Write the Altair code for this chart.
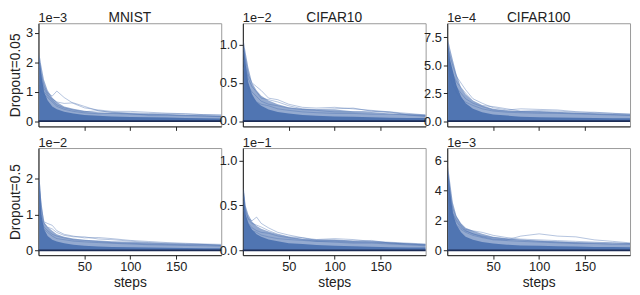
import altair as alt
import pandas as pd

FONT = "Liberation Sans"
BLUE = "#4c72b0"
NAVY = "#1d2d57"

STEPS = [1, 3, 6, 10, 15, 20, 28, 38, 50, 65, 80, 100, 120, 140, 160, 180, 199]
X_TICKS = [50, 100, 150]
DATASETS = ["MNIST", "CIFAR10", "CIFAR100"]
DROPOUTS = ["Dropout=0.05", "Dropout=0.5"]
MULTIPLIERS = [["1e−3", "1e−2", "1e−4"], ["1e−2", "1e−1", "1e−3"]]
Y_DOMAINS = [[[-0.18, 3.32], [-0.07, 1.28], [-0.47, 8.74]],
             [[-0.13, 2.85], [-0.054, 1.14], [-0.32, 6.82]]]
Y_TICKS = [[[0, 1, 2, 3], [0, 0.5, 1.0], [0, 2.5, 5, 7.5]],
           [[0, 1, 2], [0, 0.5, 1.0], [0, 2, 4, 6]]]
Y_FORMATS = [["d", ".1f", ".1f"], ["d", ".1f", "d"]]

# ---- MNIST, dropout 0.05 (x1e-3)
mnist_a_inner = [2.2, 1.6, 1.0, 0.7, 0.5, 0.4, 0.32, 0.26, 0.21, 0.18, 0.16, 0.14, 0.13, 0.12, 0.11, 0.1, 0.09]
mnist_a_outer = [2.3, 1.9, 1.4, 1.05, 0.8, 0.65, 0.5, 0.42, 0.35, 0.3, 0.28, 0.27, 0.25, 0.23, 0.21, 0.2, 0.18]
mnist_a_l1 = [2.0, 1.6, 1.2, 0.95, 0.85, 1.02, 0.8, 0.6, 0.45, 0.38, 0.33, 0.33, 0.3, 0.27, 0.25, 0.22, 0.2]
mnist_a_l2 = [1.8, 1.4, 1.1, 0.9, 0.75, 0.65, 0.6, 0.62, 0.5, 0.35, 0.3, 0.28, 0.26, 0.25, 0.24, 0.22, 0.21]
mnist_a_l3 = [1.5, 1.3, 1.0, 0.85, 0.7, 0.55, 0.45, 0.38, 0.32, 0.35, 0.3, 0.25, 0.2, 0.22, 0.2, 0.18, 0.16]
mnist_a_l4 = [1.2, 1.0, 0.9, 0.8, 0.65, 0.5, 0.4, 0.33, 0.28, 0.25, 0.26, 0.24, 0.22, 0.2, 0.18, 0.17, 0.15]

# ---- CIFAR10, dropout 0.05 (x1e-2)
c10_a_inner = [1.0, 0.75, 0.5, 0.35, 0.25, 0.2, 0.15, 0.12, 0.1, 0.08, 0.07, 0.06, 0.055, 0.05, 0.045, 0.04, 0.04]
c10_a_outer = [1.05, 0.9, 0.7, 0.5, 0.4, 0.33, 0.27, 0.22, 0.18, 0.16, 0.15, 0.15, 0.13, 0.12, 0.1, 0.09, 0.08]
c10_a_l1 = [0.95, 0.8, 0.6, 0.5, 0.45, 0.4, 0.3, 0.28, 0.22, 0.18, 0.17, 0.18, 0.16, 0.14, 0.12, 0.1, 0.08]
c10_a_l2 = [0.9, 0.7, 0.55, 0.45, 0.38, 0.3, 0.28, 0.25, 0.2, 0.16, 0.15, 0.16, 0.17, 0.13, 0.11, 0.09, 0.08]
c10_a_l3 = [0.8, 0.6, 0.45, 0.38, 0.32, 0.26, 0.22, 0.2, 0.17, 0.15, 0.14, 0.12, 0.12, 0.13, 0.12, 0.08, 0.07]
c10_a_l4 = [0.7, 0.55, 0.42, 0.3, 0.25, 0.22, 0.2, 0.16, 0.14, 0.12, 0.11, 0.1, 0.1, 0.09, 0.09, 0.08, 0.06]

# ---- CIFAR100, dropout 0.05 (x1e-4)
c100_a_inner = [7.0, 5.5, 4.5, 3.2, 2.2, 1.6, 1.1, 0.8, 0.6, 0.5, 0.4, 0.35, 0.32, 0.3, 0.28, 0.26, 0.25]
c100_a_outer = [7.3, 6.5, 5.5, 4.2, 3.0, 2.4, 1.8, 1.4, 1.1, 0.95, 0.9, 0.9, 0.85, 0.75, 0.7, 0.65, 0.6]
c100_a_l1 = [6.5, 5.8, 5.0, 4.0, 3.4, 2.8, 2.0, 1.6, 1.2, 1.0, 1.1, 1.05, 1.0, 0.85, 0.75, 0.7, 0.6]
c100_a_l2 = [6.0, 5.0, 4.2, 3.5, 3.0, 2.5, 1.8, 1.4, 1.3, 1.1, 0.9, 0.95, 0.9, 0.8, 0.8, 0.7, 0.65]
c100_a_l3 = [5.5, 4.5, 3.8, 3.0, 2.5, 2.0, 1.6, 1.3, 1.0, 0.9, 0.85, 0.8, 0.75, 0.7, 0.65, 0.6, 0.55]
c100_a_l4 = [4.8, 4.0, 3.2, 2.6, 2.0, 1.7, 1.4, 1.1, 0.9, 0.8, 0.75, 0.7, 0.7, 0.65, 0.6, 0.55, 0.5]

# ---- MNIST, dropout 0.5 (x1e-2)
mnist_b_inner = [2.0, 1.0, 0.6, 0.4, 0.3, 0.25, 0.2, 0.16, 0.13, 0.11, 0.1, 0.09, 0.08, 0.075, 0.07, 0.065, 0.06]
mnist_b_outer = [2.1, 1.4, 0.8, 0.65, 0.55, 0.45, 0.38, 0.33, 0.3, 0.28, 0.26, 0.24, 0.22, 0.2, 0.18, 0.17, 0.15]
mnist_b_l1 = [1.9, 1.2, 0.8, 0.75, 0.7, 0.55, 0.45, 0.4, 0.35, 0.36, 0.33, 0.28, 0.25, 0.22, 0.2, 0.18, 0.17]
mnist_b_l2 = [1.7, 1.0, 0.75, 0.65, 0.6, 0.5, 0.42, 0.38, 0.38, 0.32, 0.3, 0.26, 0.22, 0.2, 0.19, 0.17, 0.15]
mnist_b_l3 = [1.5, 0.9, 0.65, 0.55, 0.45, 0.4, 0.35, 0.3, 0.28, 0.25, 0.22, 0.2, 0.18, 0.17, 0.16, 0.16, 0.14]
mnist_b_l4 = [1.2, 0.8, 0.6, 0.5, 0.4, 0.33, 0.3, 0.26, 0.24, 0.22, 0.2, 0.18, 0.16, 0.15, 0.14, 0.13, 0.12]

# ---- CIFAR10, dropout 0.5 (x1e-1)
c10_b_inner = [0.68, 0.4, 0.3, 0.23, 0.18, 0.15, 0.12, 0.1, 0.08, 0.07, 0.06, 0.05, 0.045, 0.04, 0.035, 0.03, 0.03]
c10_b_outer = [0.7, 0.5, 0.4, 0.32, 0.27, 0.24, 0.21, 0.18, 0.15, 0.13, 0.12, 0.12, 0.11, 0.1, 0.09, 0.08, 0.07]
c10_b_l1 = [0.6, 0.45, 0.35, 0.33, 0.37, 0.3, 0.25, 0.2, 0.17, 0.14, 0.12, 0.13, 0.12, 0.1, 0.09, 0.08, 0.07]
c10_b_l2 = [0.55, 0.42, 0.34, 0.3, 0.28, 0.26, 0.22, 0.18, 0.15, 0.14, 0.11, 0.11, 0.1, 0.11, 0.08, 0.07, 0.06]
c10_b_l3 = [0.5, 0.38, 0.3, 0.25, 0.22, 0.2, 0.19, 0.16, 0.14, 0.12, 0.1, 0.1, 0.09, 0.09, 0.08, 0.07, 0.06]
c10_b_l4 = [0.45, 0.35, 0.28, 0.22, 0.2, 0.17, 0.15, 0.13, 0.12, 0.11, 0.1, 0.09, 0.08, 0.08, 0.07, 0.06, 0.05]

# ---- CIFAR100, dropout 0.5 (x1e-3)
c100_b_inner = [5.3, 4.0, 2.5, 1.7, 1.2, 0.9, 0.7, 0.55, 0.45, 0.38, 0.33, 0.3, 0.27, 0.25, 0.23, 0.22, 0.2]
c100_b_outer = [5.6, 4.6, 3.2, 2.3, 1.8, 1.5, 1.3, 1.1, 0.9, 0.8, 0.7, 0.65, 0.6, 0.55, 0.5, 0.48, 0.45]
c100_b_l1 = [4.5, 3.5, 2.5, 2.0, 1.6, 1.3, 1.1, 0.9, 0.75, 0.7, 0.95, 1.1, 0.95, 0.9, 0.7, 0.6, 0.5]
c100_b_l2 = [5.0, 4.0, 2.8, 2.2, 1.7, 1.4, 1.3, 1.2, 1.0, 0.85, 0.75, 0.7, 0.65, 0.6, 0.55, 0.5, 0.45]
c100_b_l3 = [4.0, 3.2, 2.4, 1.9, 1.5, 1.3, 1.1, 0.95, 0.85, 0.75, 0.7, 0.6, 0.55, 0.5, 0.5, 0.5, 0.45]
c100_b_l4 = [3.5, 2.8, 2.1, 1.7, 1.4, 1.2, 1.0, 0.85, 0.7, 0.65, 0.6, 0.55, 0.5, 0.45, 0.45, 0.4, 0.4]

PANELS = [
    [(mnist_a_inner, mnist_a_outer, [mnist_a_l1, mnist_a_l2, mnist_a_l3, mnist_a_l4]),
     (c10_a_inner, c10_a_outer, [c10_a_l1, c10_a_l2, c10_a_l3, c10_a_l4]),
     (c100_a_inner, c100_a_outer, [c100_a_l1, c100_a_l2, c100_a_l3, c100_a_l4])],
    [(mnist_b_inner, mnist_b_outer, [mnist_b_l1, mnist_b_l2, mnist_b_l3, mnist_b_l4]),
     (c10_b_inner, c10_b_outer, [c10_b_l1, c10_b_l2, c10_b_l3, c10_b_l4]),
     (c100_b_inner, c100_b_outer, [c100_b_l1, c100_b_l2, c100_b_l3, c100_b_l4])],
]

W = 186
HEIGHTS = [105, 109]


def panel(r, c):
    inner, outer, lines = PANELS[r][c]
    rows = []
    for s, v in zip(STEPS, outer):
        rows.append({"step": s, "v": v, "kind": "outer", "run": "o"})
    for s, v in zip(STEPS, inner):
        rows.append({"step": s, "v": v, "kind": "inner", "run": "i"})
    for k, ln in enumerate(lines):
        for s, v in zip(STEPS, ln):
            rows.append({"step": s, "v": v, "kind": "line", "run": "l%d" % k})
    df = pd.DataFrame(rows)
    one = pd.DataFrame({"step": [0], "v": [0.0]})

    xkw = dict(values=X_TICKS, grid=False, labels=(r == 1), labelOverlap=False)
    xkw["title"] = "steps" if r == 1 else ""
    ykw = dict(values=Y_TICKS[r][c], format=Y_FORMATS[r][c], grid=False,
               labelOverlap=False, labelFlush=False, labelBound=False, tickCount=len(Y_TICKS[r][c]))
    if c == 0:
        ykw["title"] = DROPOUTS[r]
        ykw["titleFontSize"] = 14
        ykw["titlePadding"] = 3
    else:
        ykw["title"] = ""
    xscale = alt.Scale(domain=[0, 199], nice=False, zero=False)
    yscale = alt.Scale(domain=Y_DOMAINS[r][c], nice=False, zero=False)
    X = alt.X("step:Q", scale=xscale, axis=alt.Axis(**xkw))
    Y = alt.Y("v:Q", scale=yscale, axis=alt.Axis(**ykw))

    base = alt.Chart(df).encode(x=X, y=Y)
    outer_area = base.transform_filter(alt.datum.kind == "outer").mark_area(
        color=BLUE, opacity=0.6, clip=True).encode(y2=alt.datum(0))
    inner_area = base.transform_filter(alt.datum.kind == "inner").mark_area(
        color=BLUE, opacity=0.95, clip=True).encode(y2=alt.datum(0))
    line = base.transform_filter(alt.datum.kind == "line").mark_line(
        color=BLUE, strokeWidth=0.6, opacity=0.7, clip=True).encode(detail="run:N")
    rule = alt.Chart(one).mark_rule(color=NAVY, strokeWidth=1.8).encode(y=Y)
    mult = alt.Chart(one).mark_text(align="left", baseline="alphabetic", font=FONT,
                                    fontSize=13, color="#222").encode(
        x=alt.value(0), y=alt.value(-1), text=alt.value(MULTIPLIERS[r][c]))
    layers = [outer_area, inner_area, line, rule, mult]
    if r == 0:
        title = alt.Chart(one).mark_text(align="center", baseline="alphabetic", font=FONT,
                                         fontSize=14, color="#222").encode(
            x=alt.value(W / 2), y=alt.value(-1), text=alt.value(DATASETS[c]))
        layers.append(title)
    return alt.layer(*layers).properties(width=W, height=HEIGHTS[r])


panels = [panel(r, c) for r in range(2) for c in range(3)]
chart = alt.concat(*panels, columns=3, spacing=22, bounds="flush").properties(padding=0).configure_view(
    stroke="#999", strokeWidth=1
).configure_axis(
    domainColor="#222", tickColor="#222", labelColor="#222", titleColor="#222",
    labelFont=FONT, titleFont=FONT, labelFontSize=13, titleFontSize=14,
    titleFontWeight="normal", tickSize=4, labelPadding=2, titlePadding=2,
    domainWidth=1, tickWidth=1
)

chart.save("out.html", embed_options={"renderer": "svg", "actions": False})
